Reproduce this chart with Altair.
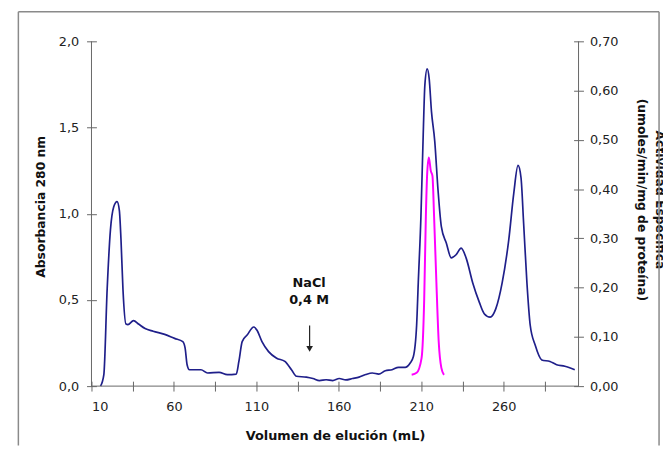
import altair as alt
import pandas as pd

# ---- data ----
abs_ml = [15.5, 17.5, 19.5, 21.5, 23.5, 25.5, 26.9, 27.9, 29.1, 30.9, 32.1, 35.5, 38.5, 42.5,
          47.4, 54.4, 60.4, 65.4, 66.8, 68.0, 69.4, 76.4, 80.4, 87.4, 92.4, 97.8, 99.4, 101.4,
          104.4, 108.4, 110.4, 113.4, 117.4, 122.3, 127.3, 131.3, 134.3, 140.3, 144.3, 148.3,
          152.3, 156.3, 160.3, 164.3, 168.3, 172.3, 176.3, 180.3, 184.2, 188.2, 192.3, 196.2,
          200.2, 203.2, 205.2, 207.2, 208.2, 209.8, 211.2, 212.2, 213.6, 214.8, 216.2, 218.2,
          220.2, 222.2, 225.2, 228.2, 231.2, 234.2, 237.2, 241.2, 245.2, 248.2, 251.8, 255.2,
          259.1, 263.1, 266.1, 268.7, 270.5, 272.1, 274.1, 276.1, 279.1, 283.1, 288.1, 292.1,
          297.1, 303.1]
abs_val = [0.0, 0.067, 0.56, 0.906, 1.04, 1.07, 1.02, 0.85, 0.56, 0.36, 0.357, 0.38, 0.36, 0.334,
           0.318, 0.30, 0.277, 0.258, 0.22, 0.124, 0.095, 0.095, 0.076, 0.08, 0.067, 0.07, 0.143, 0.258,
           0.296, 0.343, 0.324, 0.258, 0.20, 0.162, 0.143, 0.095, 0.057, 0.052, 0.044, 0.032,
           0.037, 0.032, 0.044, 0.036, 0.044, 0.052, 0.067, 0.076, 0.07, 0.089, 0.095, 0.109,
           0.109, 0.133, 0.17, 0.353, 0.60, 0.98, 1.46, 1.746, 1.84, 1.785, 1.594, 1.42,
           1.135, 0.925, 0.83, 0.744, 0.763, 0.80, 0.744, 0.60, 0.487, 0.42, 0.40, 0.448,
           0.60, 0.85, 1.117, 1.28, 1.21, 0.945, 0.60, 0.353, 0.238, 0.152, 0.143, 0.124,
           0.115, 0.095]

act_ml = [204.2, 207.2, 210.2, 211.8, 212.8, 213.6, 214.6, 215.8, 216.8, 217.8, 219.2, 220.6, 222.2, 223.8]
act_val = [0.023, 0.027, 0.057, 0.177, 0.344, 0.431, 0.464, 0.437, 0.427, 0.344, 0.21, 0.09, 0.037, 0.023]

x_ticks = [10, 35, 60, 85, 110, 135, 160, 185, 210, 235, 260, 285]
left_ticks = [0.0, 0.5, 1.0, 1.5, 2.0]
right_ticks = [0.0, 0.1, 0.2, 0.3, 0.4, 0.5, 0.6, 0.7]

note_text = ["NaCl", "0,4 M"]
note_ml = [142.0, 142.0]
note_y = [0.597, 0.50]
arrow_ml = 142.3
arrow_top, arrow_end, arrow_tip = 0.351, 0.23, 0.216

# ---- layout ----
W, H = 493, 349
PAD_L, PAD_T = 84.5, 31
PAD_R = 663 - PAD_L - W
PAD_B = 448 - PAD_T - H

LEFT_MAX, RIGHT_MAX = 2.0, 0.7
RATIO = LEFT_MAX / RIGHT_MAX  # right-axis units -> left-axis units

FONT = "DejaVu Sans"
AX = "#666666"
LBL = "#222222"
FRAME = "#8a8a8a"

xscale = alt.Scale(domain=[10, 305.4], nice=False, zero=False)
y_scale = alt.Scale(domain=[0, LEFT_MAX], nice=False)

x_axis = alt.Axis(values=x_ticks, labelExpr="datum.value % 50 == 10 ? datum.label : ''",
                  tickSize=10, offset=-5, domain=False, grid=False, tickColor=AX,
                  labelFont=FONT, labelFontSize=13, labelColor=LBL, labelPadding=10,
                  title="Volumen de elución (mL)", titleFont=FONT, titleFontSize=13,
                  titleFontWeight="bold", titleColor="#111111", titlePadding=16)
x_enc = alt.X("ml:Q", scale=xscale, axis=x_axis)

left_axis = alt.Axis(orient="left", values=left_ticks,
                     labelExpr="replace(format(datum.value, '.1f'), '.', ',')",
                     tickSize=10, offset=-5, domain=False, grid=False, tickColor=AX,
                     labelFont=FONT, labelFontSize=13, labelColor=LBL, labelPadding=8,
                     title="Absorbancia 280 nm", titleFont=FONT, titleFontSize=12.5,
                     titleFontWeight="bold", titleColor="#111111", titlePadding=11,
                     titleY=167)

# right axis drawn on the shared scale: tick positions in left units, labels in activity units
right_pos = [min(LEFT_MAX, round(t * RATIO, 9)) for t in right_ticks]
right_axis = alt.Axis(orient="right", values=right_pos,
                      labelExpr=f"replace(format(datum.value / {RATIO}, '.2f'), '.', ',')",
                      tickSize=10, offset=-5, domain=False, grid=False, tickColor=AX,
                      labelFont=FONT, labelFontSize=13, labelColor=LBL, labelPadding=6,
                      title=["Actividad Específica", "(umoles/min/mg de proteína)"],
                      titleFont=FONT, titleFontSize=12.5, titleFontWeight="bold",
                      titleColor="#111111", titlePadding=17, titleLineHeight=18,
                      titleY=160)

df_abs = pd.DataFrame({"ml": abs_ml, "v": abs_val})
df_act = pd.DataFrame({"ml": act_ml, "act": act_val})
df_note = pd.DataFrame({"ml": note_ml, "v": note_y, "t": note_text})
df_arrow = pd.DataFrame({"ml": [arrow_ml], "v": [arrow_top], "v2": [arrow_end]})
df_tip = pd.DataFrame({"ml": [arrow_ml], "v": [arrow_tip]})
one = pd.DataFrame({"a": [0]})

blue = alt.Chart(df_abs).mark_line(color="#1f1f8a", strokeWidth=1.7, interpolate="monotone").encode(
    x=x_enc, y=alt.Y("v:Q", scale=y_scale, axis=left_axis))

magenta = alt.Chart(df_act).transform_calculate(
    v=f"datum.act * {RATIO}"
).mark_line(color="#ff00ff", strokeWidth=2, interpolate="monotone").encode(
    x=x_enc, y=alt.Y("v:Q", scale=y_scale, axis=right_axis))

notes = alt.Chart(df_note).mark_text(font=FONT, fontSize=13, fontWeight="bold", color="#111111",
                                     baseline="middle", align="center").encode(
    x=x_enc, y=alt.Y("v:Q", scale=y_scale, axis=None), text="t:N")

arrow = alt.Chart(df_arrow).mark_rule(color="#222222", strokeWidth=1.2).encode(
    x=x_enc, y=alt.Y("v:Q", scale=y_scale, axis=None), y2="v2:Q")

tip = alt.Chart(df_tip).mark_point(shape="triangle-down", filled=True, size=45, color="#222222",
                                   opacity=1).encode(
    x=x_enc, y=alt.Y("v:Q", scale=y_scale, axis=None))

# axis lines (domain) drawn as rules at the plot edges
dom_left = alt.Chart(one).mark_rule(color=AX, strokeWidth=1).encode(
    x=alt.value(0), y=alt.value(0), y2=alt.value(H))
dom_bottom = alt.Chart(one).mark_rule(color=AX, strokeWidth=1).encode(
    x=alt.value(0), x2=alt.value(W), y=alt.value(H))
dom_right = alt.Chart(one).mark_rule(color=AX, strokeWidth=1).encode(
    x=alt.value(W), y=alt.value(0), y2=alt.value(H))

# outer chart frame (grey border of the chart area)
fr_top = alt.Chart(one).mark_rule(color=FRAME, strokeWidth=1.5).encode(
    x=alt.value(-74), x2=alt.value(574.5), y=alt.value(-30))
fr_left = alt.Chart(one).mark_rule(color=FRAME, strokeWidth=1.5).encode(
    x=alt.value(-74), y=alt.value(-30), y2=alt.value(H + 60))
fr_right = alt.Chart(one).mark_rule(color=FRAME, strokeWidth=1.5).encode(
    x=alt.value(574.5), y=alt.value(-30), y2=alt.value(H + 60))

chart = alt.layer(
    blue, magenta, notes, arrow, tip, dom_left, dom_bottom, dom_right, fr_top, fr_left, fr_right
).resolve_axis(y="independent").properties(
    width=W, height=H,
    autosize=alt.AutoSizeParams(type="none"),
    padding={"left": PAD_L, "top": PAD_T, "right": PAD_R, "bottom": PAD_B},
    background="white",
).configure_view(strokeOpacity=0)

chart.save("out.html", embed_options={"renderer": "svg", "actions": False})
